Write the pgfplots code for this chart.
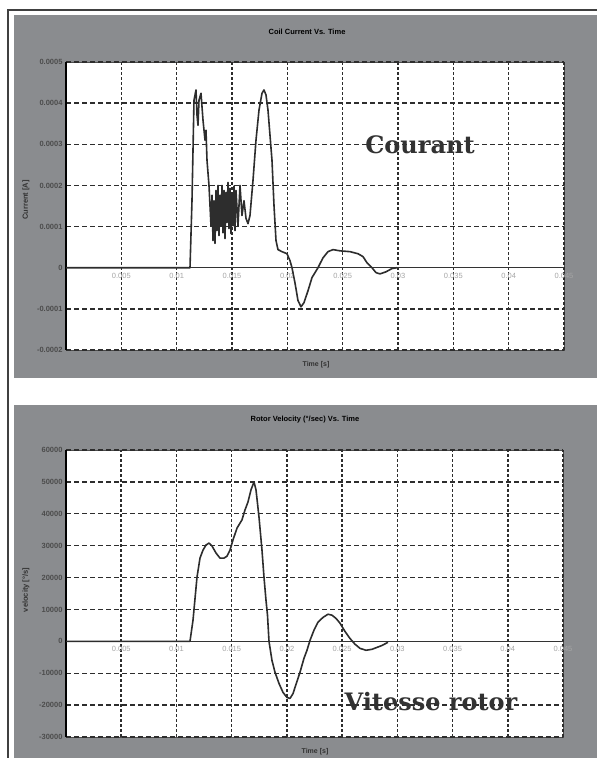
\documentclass[border=0pt]{standalone}
\usepackage{fontspec}
\setmainfont{Liberation Sans}
\newfontfamily\slab{DejaVu Serif}
\usepackage{pgfplots}
\pgfplotsset{compat=1.18}
\definecolor{panelgray}{RGB}{138,140,143}
\definecolor{gridc}{RGB}{45,45,45}
\definecolor{curvec}{RGB}{45,45,45}
\definecolor{annot}{RGB}{50,50,50}
\pgfplotsset{
  refax/.style={
    anchor=south west, scale only axis,
    xmin=0, xmax=0.045,
    scaled x ticks=false, scaled y ticks=false,
    axis x line=middle, axis y line=left,
    x axis line style={-, line width=1.1pt, color=black!80},
    y axis line style={-, line width=2.2pt, color=black},
    xtick={0,0.005,0.01,0.015,0.02,0.025,0.03,0.035,0.04,0.045},
    xticklabels={0,0.005,0.01,0.015,0.02,0.025,0.03,0.035,0.04,0.045},
    xticklabel style={font=\fontsize{7.5}{8}\selectfont, text=black!35, yshift=-4pt, inner sep=1pt},
    yticklabel style={font=\fontsize{7.5}{8}\selectfont\bfseries, text=black!70},
    major tick length=0pt,
    grid=major,
    x grid style={dash pattern=on 2.6pt off 2.4pt, line width=1.6pt, color=gridc},
    y grid style={dash pattern=on 5pt off 3pt, line width=1.3pt, color=gridc},
    clip=false,
  }
}
\begin{document}
\begin{tikzpicture}
\useasboundingbox (0,0) rectangle (597pt,758pt);
% panels
\fill[white] (0,0) rectangle (597pt,758pt);
\fill[panelgray] (14pt,380pt) rectangle (597pt,743pt);
\fill[panelgray] (14pt,0pt) rectangle (597pt,353pt);
\draw[black!75, line width=1.5pt] (8pt,0pt) -- (8pt,748pt) -- (597pt,748pt);
% plot areas
\filldraw[fill=white, draw=black!70, line width=0.8pt] (66pt,408pt) rectangle (564pt,696pt);
\filldraw[fill=white, draw=black!70, line width=0.8pt] (66pt,21pt) rectangle (563pt,308pt);
% texts
\node[font=\fontsize{7.5}{8}\selectfont\bfseries] at (307pt,726pt) {Coil Current Vs. Time};
\node[font=\fontsize{7.5}{8}\selectfont\bfseries] at (305pt,338pt) {Rotor Velocity (°/sec) Vs. Time};
\node[font=\fontsize{7}{8}\selectfont\bfseries, text=black!80] at (316pt,393pt) {Time [s]};
\node[font=\fontsize{7}{8}\selectfont\bfseries, text=black!80] at (315pt,6pt) {Time [s]};
\node[font=\fontsize{7.5}{8}\selectfont\bfseries, rotate=90, text=black!80] at (26pt,558pt) {Current [A]};
\node[font=\fontsize{7.5}{8}\selectfont\bfseries, rotate=90, text=black!80] at (26pt,168pt) {velocity [°/s]};

\begin{axis}[refax, at={(66pt,408pt)}, width=498pt, height=288pt,
  ymin=-0.0002, ymax=0.0005,
  ytick={-0.0002,-0.0001,0,0.0001,0.0002,0.0003,0.0004,0.0005},
  yticklabels={-0.0002,-0.0001,0,0.0001,0.0002,0.0003,0.0004,0.0005},
]
\addplot[curvec, line width=1.6pt, line join=round] coordinates {
(0,0) (0.011205,0) (0.011385,0.000163) (0.011566,0.000407) (0.011747,0.000432)
(0.011837,0.000371) (0.011928,0.000346) (0.012018,0.000407) (0.012199,0.000424)
(0.012379,0.000359) (0.012560,0.000310) (0.012650,0.000334) (0.012741,0.000261)
(0.012921,0.000200) (0.013102,0.000102) (0.013193,0.000176) (0.013283,0.000066)
(0.013373,0.000163) (0.013464,0.000059) (0.013554,0.000188) (0.013644,0.000090)
(0.013735,0.000200) (0.013825,0.000078) (0.013915,0.000176) (0.014006,0.000102)
(0.014096,0.000200) (0.014187,0.000085) (0.014277,0.000188) (0.014367,0.000071)
(0.014458,0.000183) (0.014548,0.000110) (0.014638,0.000207) (0.014729,0.000095)
(0.014819,0.000193) (0.014909,0.000083) (0.015000,0.000176) (0.015090,0.000102)
(0.015180,0.000198) (0.015271,0.000090) (0.015361,0.000188) (0.015542,0.000102)
(0.015723,0.000200) (0.015903,0.000127) (0.016084,0.000163) (0.016265,0.000120)
(0.016446,0.000107) (0.016626,0.000127) (0.016897,0.000212) (0.017168,0.000310)
(0.017439,0.000383) (0.017711,0.000424) (0.017891,0.000432) (0.018072,0.000420)
(0.018253,0.000383) (0.018433,0.000322) (0.018614,0.000261) (0.018795,0.000151)
(0.018976,0.000066) (0.019156,0.000044) (0.019518,0.000039) (0.019970,0.000034)
(0.020241,0.000017) (0.020421,0) (0.020692,-0.000037) (0.020964,-0.000080)
(0.021235,-0.000095) (0.021506,-0.000085) (0.021867,-0.000056) (0.022229,-0.000024)
(0.022771,0) (0.023223,0.000024) (0.023674,0.000039) (0.024126,0.000044)
(0.024759,0.000041) (0.025662,0.000039) (0.026385,0.000034) (0.026837,0.000027)
(0.027198,0.000012) (0.027650,0) (0.028012,-0.000012) (0.028373,-0.000015)
(0.028915,-0.000010) (0.029457,-0.000002) (0.029909,0)
};
\end{axis}

\begin{axis}[refax, at={(66pt,21pt)}, width=497pt, height=287pt,
  ymin=-30000, ymax=60000,
  ytick={-30000,-20000,-10000,0,10000,20000,30000,40000,50000,60000},
  yticklabels={-30000,-20000,-10000,0,10000,20000,30000,40000,50000,60000},
]
\addplot[curvec, line width=1.6pt, line join=round] coordinates {
(0,0) (0.011227,0) (0.011499,6600) (0.011861,20100) (0.012132,26100)
(0.012404,28600) (0.012676,30200) (0.012947,30800) (0.013219,29900)
(0.013581,27700) (0.013943,26100) (0.014305,26100) (0.014577,26700)
(0.014849,28600) (0.015120,31800) (0.015482,35500) (0.015935,38100)
(0.016207,41200) (0.016478,43700) (0.016750,47500) (0.017022,50000)
(0.017203,47500) (0.017474,39000) (0.017746,28600) (0.017927,20100)
(0.018108,12900) (0.018244,8200) (0.018380,0) (0.018651,-6000)
(0.018923,-9700) (0.019285,-13200) (0.019647,-16000) (0.020009,-17600)
(0.020281,-17900) (0.020553,-16400) (0.020824,-13500) (0.021186,-9700)
(0.021549,-5300) (0.021820,-2800) (0.022092,300) (0.022454,3500)
(0.022816,6000) (0.023269,7500) (0.023722,8500) (0.024084,8200)
(0.024446,7200) (0.024808,5700) (0.025261,3100) (0.025713,900)
(0.026166,-900) (0.026619,-2200) (0.027162,-2800) (0.027705,-2500)
(0.028158,-1900) (0.028611,-1300) (0.029154,-300)
};
\end{axis}

\node[font=\slab\bfseries\fontsize{24}{26}\selectfont, text=annot] at (420pt,613pt) {Courant};
\node[font=\slab\bfseries\fontsize{24}{26}\selectfont, text=annot] at (431pt,56pt) {Vitesse rotor};
\end{tikzpicture}
\end{document}
